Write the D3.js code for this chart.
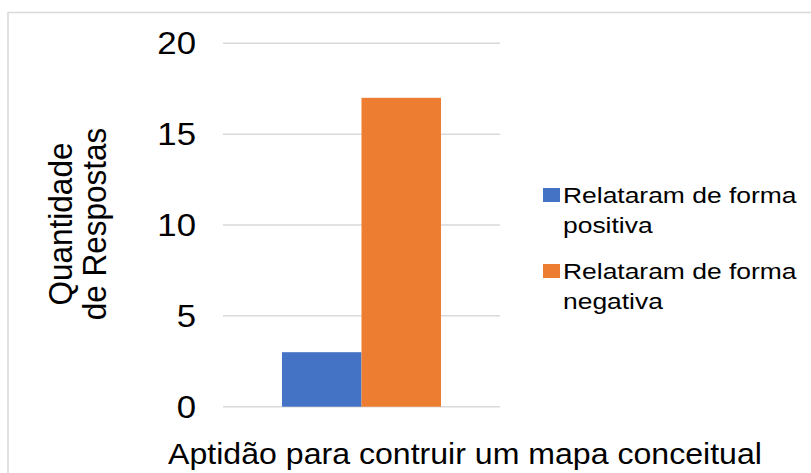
<!DOCTYPE html>
<html>
<head>
<meta charset="utf-8">
<script src="https://cdn.jsdelivr.net/npm/d3@7"></script>
<style>
  body { margin: 0; background: #fff; }
  text { font-family: "Liberation Sans", Arial, sans-serif; fill: #000; }
</style>
</head>
<body>
<div id="chart"></div>
<script>
// Data
const categories = ["Aptidão para contruir um mapa conceitual"];
const seriesNames = ["Relataram de forma positiva", "Relataram de forma negativa"];
const legendLines = [["Relataram de forma", "positiva"], ["Relataram de forma", "negativa"]];
const positiva = [3];
const negativa = [17];
const yTicks = [0, 5, 10, 15, 20];
const colors = ["#4472C4", "#ED7D31"];

const width = 811;
const height = 473;
const plot = { left: 223, right: 500, top: 43.3, bottom: 406.7 };

const svg = d3.select("#chart")
    .append("svg")
    .attr("width", width)
    .attr("height", height);

// outer border
svg.append("rect")
    .attr("x", 8).attr("y", 12.5)
    .attr("width", width + 10).attr("height", height + 10)
    .attr("fill", "#fff")
    .attr("stroke", "#D9D9D9")
    .attr("stroke-width", 1.5);

// Scales
const x0 = d3.scaleBand()
    .domain(categories)
    .range([plot.left, plot.right])
    .paddingInner(0)
    .paddingOuter(0.371);

const x1 = d3.scaleBand()
    .domain(seriesNames)
    .range([0, x0.bandwidth()]);

const y = d3.scaleLinear()
    .domain([0, 20])
    .range([plot.bottom, plot.top]);

// gridlines
svg.append("g")
    .selectAll("line")
    .data(yTicks)
    .join("line")
    .attr("x1", plot.left)
    .attr("x2", plot.right)
    .attr("y1", d => y(d))
    .attr("y2", d => y(d))
    .attr("stroke", "#D9D9D9")
    .attr("stroke-width", 1.5);

// tick labels (text in the picture is a little stretched sideways)
svg.append("g")
    .selectAll("text")
    .data(yTicks)
    .join("text")
    .attr("transform", d => `translate(196,${y(d)}) scale(1.14,1)`)
    .attr("text-anchor", "end")
    .attr("dy", "0.36em")
    .attr("font-size", 30.5)
    .text(d => d);

// bars
const rows = categories.map((c, i) => ({ cat: c, values: [positiva[i], negativa[i]] }));
const groups = svg.append("g")
    .selectAll("g")
    .data(rows)
    .join("g")
    .attr("transform", d => `translate(${x0(d.cat)},0)`);

groups.selectAll("rect")
    .data(d => d.values.map((v, j) => ({ name: seriesNames[j], value: v, j })))
    .join("rect")
    .attr("x", d => x1(d.name))
    .attr("y", d => y(d.value))
    .attr("width", x1.bandwidth())
    .attr("height", d => y(0) - y(d.value))
    .attr("fill", d => colors[d.j]);

// y axis title (two lines)
const yTitle = ["Quantidade", "de Respostas"];
svg.append("g")
    .selectAll("text")
    .data(yTitle)
    .join("text")
    .attr("transform", (d, i) => `translate(${72 + i * 34},224) scale(1.07,1) rotate(-90)`)
    .attr("text-anchor", "middle")
    .attr("font-size", 31.5)
    .text(d => d);

// x axis title
svg.append("text")
    .attr("transform", "translate(465,464) scale(1.088,1)")
    .attr("text-anchor", "middle")
    .attr("font-size", 29.5)
    .text(categories[0]);

// legend
const legend = svg.append("g")
    .selectAll("g")
    .data(seriesNames)
    .join("g")
    .attr("transform", (d, i) => `translate(543,${188 + i * 76})`);

legend.append("rect")
    .attr("x", 0).attr("y", 0)
    .attr("width", 17).attr("height", 14)
    .attr("fill", (d, i) => colors[i]);

legend.each(function(d, i) {
    const g = d3.select(this);
    legendLines[i].forEach((line, k) => {
        g.append("text")
            .attr("transform", `translate(20,${15 + k * 30}) scale(1.23,1)`)
            .attr("font-size", 21.5)
            .text(line);
    });
});
</script>
</body>
</html>
